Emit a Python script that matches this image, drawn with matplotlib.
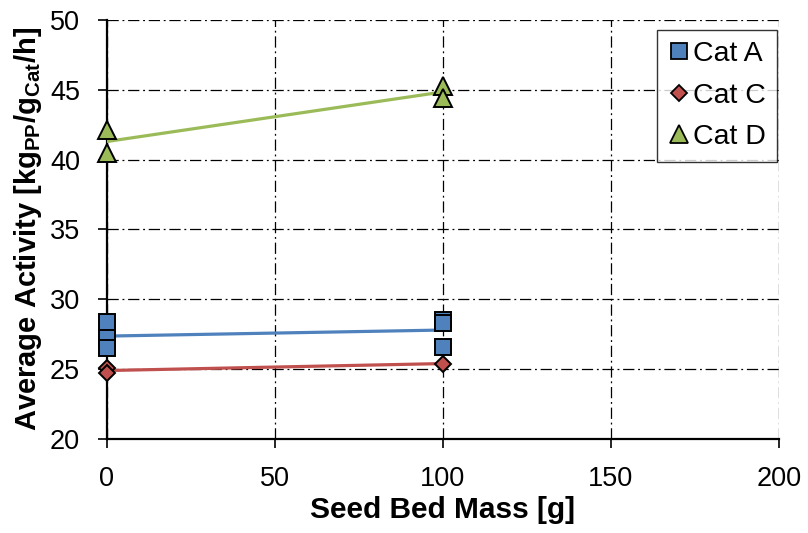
import numpy as np
import matplotlib
matplotlib.use("Agg")
import matplotlib.pyplot as plt
from matplotlib.lines import Line2D

plt.rcParams['font.family'] = ['Liberation Sans', 'DejaVu Sans']
plt.rcParams['mathtext.fontset'] = 'custom'
plt.rcParams['mathtext.rm'] = 'Liberation Sans'
plt.rcParams['mathtext.bf'] = 'Liberation Sans:bold'

# seed bed mass [g] and measured activity per catalyst
cat_a_x = [0, 0, 0, 100, 100, 100]
cat_a_y = [28.4, 27.2, 26.5, 28.5, 28.3, 26.6]

cat_c_x = [0, 0, 100]
cat_c_y = [25.1, 24.7, 25.4]

cat_d_x = [0, 0, 100, 100]
cat_d_y = [42.1, 40.5, 45.3, 44.4]

labels = ['Cat A', 'Cat C', 'Cat D']
colors = ['#4F81BD', '#C0504D', '#9BBB59']
markers = ['s', 'D', '^']
sizes = [12, 8.5, 12.5]

series = [(cat_a_x, cat_a_y), (cat_c_x, cat_c_y), (cat_d_x, cat_d_y)]

fig = plt.figure(figsize=(8.08, 5.33), dpi=100)
ax = fig.add_axes([0.1324, 0.1764, 0.8317, 0.7861])

for (xs, ys), c, m, s in zip(series, colors, markers, sizes):
    xs = np.array(xs, dtype=float)
    ys = np.array(ys, dtype=float)
    k, b = np.polyfit(xs, ys, 1)
    xf = np.array([xs.min(), xs.max()])
    ax.plot(xf, k * xf + b, color=c, lw=2.3, zorder=3, solid_capstyle='butt')
    ax.plot(xs, ys, ls='none', marker=m, ms=s, mfc=c, mec='black', mew=1.4,
            zorder=4, clip_on=False)

ax.set_xlim(0, 200)
ax.set_ylim(20, 50)
ax.set_xticks(np.arange(0, 201, 50))
ax.set_yticks(np.arange(20, 51, 5))
ax.grid(True, color='black', ls=(0, (9, 3, 1.5, 3)), lw=0.9)
ax.set_axisbelow(True)

for side in ['top', 'right']:
    ax.spines[side].set_visible(False)
for side in ['left', 'bottom']:
    ax.spines[side].set_linewidth(1.6)

ax.tick_params(direction='out', length=6.5, width=1.2, labelsize=19.5, pad=13)

ax.set_xlabel('Seed Bed Mass [g]', fontsize=21.5, fontweight='bold', labelpad=3)
ax.set_ylabel(r'Average Activity [kg$_{\mathbf{PP}}$/g$_{\mathbf{Cat}}$/h]',
              fontsize=21, fontweight='bold', labelpad=4)

handles = [Line2D([], [], ls='none', marker=m, ms=s, mfc=c, mec='black', mew=1.3)
           for c, m, s in zip(colors, markers, sizes)]
leg = ax.legend(handles, labels, loc='upper right', bbox_to_anchor=(0.997, 0.977),
                fontsize=20.5, frameon=True, fancybox=False, handlelength=0.75,
                handletextpad=0.1, labelspacing=0.55, borderpad=0.4,
                borderaxespad=0.0)
leg.get_frame().set_edgecolor('black')
leg.get_frame().set_linewidth(1.0)

fig.savefig('out.png', dpi=100)
